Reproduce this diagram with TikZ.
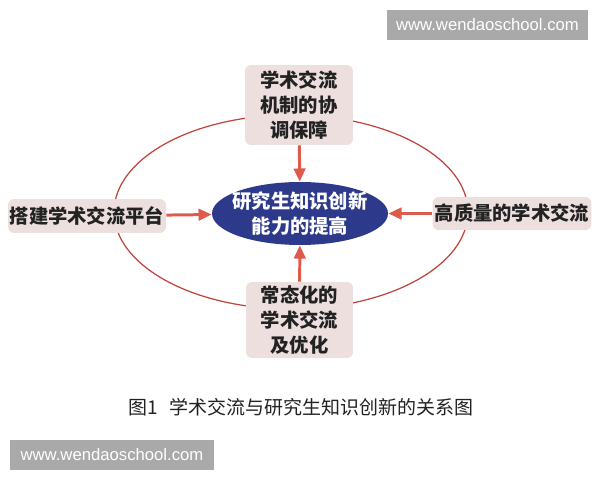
\documentclass[tikz,border=0pt]{standalone}
\usepackage{fontspec}
\usepackage{tikz}
\usetikzlibrary{arrows.meta,shapes.geometric}
\newfontfamily\cjk{Noto Sans CJK SC}
\newfontfamily\webfont{Liberation Sans}
\definecolor{boxpink}{HTML}{EEDFDF}
\definecolor{textdark}{HTML}{222222}
\definecolor{hubblue}{HTML}{2D3A8C}
\definecolor{ringred}{HTML}{C0433C}
\definecolor{arrowred}{HTML}{DE5A4C}
\definecolor{stampgray}{HTML}{A9A9A9}

\begin{document}
\begin{tikzpicture}[x=0.02cm,y=-0.02cm,
  factor/.style={fill=boxpink, rounded corners=3.5pt, align=center, inner sep=0pt,
    text=textdark, font=\cjk\bfseries\fontsize{11}{14.2}\selectfont},
  hub/.style={ellipse, fill=hubblue, inner sep=0pt, minimum width=3.52cm, minimum height=1.26cm},
  hubtext/.style={align=center, inner sep=0pt, text=white, font=\cjk\bfseries\fontsize{11}{14.2}\selectfont},
  ring/.style={draw=ringred, line width=0.7pt},
  push/.style={draw=arrowred, line width=1.7pt, -{Triangle[width=6.5pt,length=7.5pt]}},
  stamp/.style={fill=stampgray, text=white, inner sep=0pt, font=\webfont\fontsize{9.5}{11}\selectfont},
  caption/.style={text=textdark, inner sep=0pt, font=\cjk\fontsize{10.8}{12}\selectfont}]
\useasboundingbox[fill=white] (0,0) rectangle (600,480);

\draw[ring] (291,212) ellipse [x radius=3.54cm, y radius=1.94cm];

\node[factor, minimum width=2.16cm, minimum height=1.6cm] (mech) at (299,105) {学术交流\\机制的协\\调保障};
\node[factor, minimum width=3.16cm, minimum height=0.68cm] (platform) at (87,216) {搭建学术交流平台};
\node[factor, minimum width=3.18cm, minimum height=0.66cm] (quality) at (512,213.5) {高质量的学术交流};
\node[factor, minimum width=2.14cm, minimum height=1.52cm] (routine) at (299.5,320) {常态化的\\学术交流\\及优化};

\node[hub] (core) at (300,213.5) {};
\node[hubtext] (coretext) at (core) {研究生知识创新\\能力的提高};

\draw[push] (mech) -- (core);
\draw[push] (platform) -- (core);
\draw[push] (quality) -- (core);
\draw[push] (routine) -- (core);

\node[caption] (cap) at (301,407) {图1\hspace{0.6em}学术交流与研究生知识创新的关系图};

\node[stamp, minimum width=4.02cm, minimum height=0.6cm] (stampTop) at (487.5,25) {www.wendaoschool.com};
\node[stamp, minimum width=4.08cm, minimum height=0.6cm] (stampBottom) at (112,455) {www.wendaoschool.com};
\end{tikzpicture}
\end{document}
